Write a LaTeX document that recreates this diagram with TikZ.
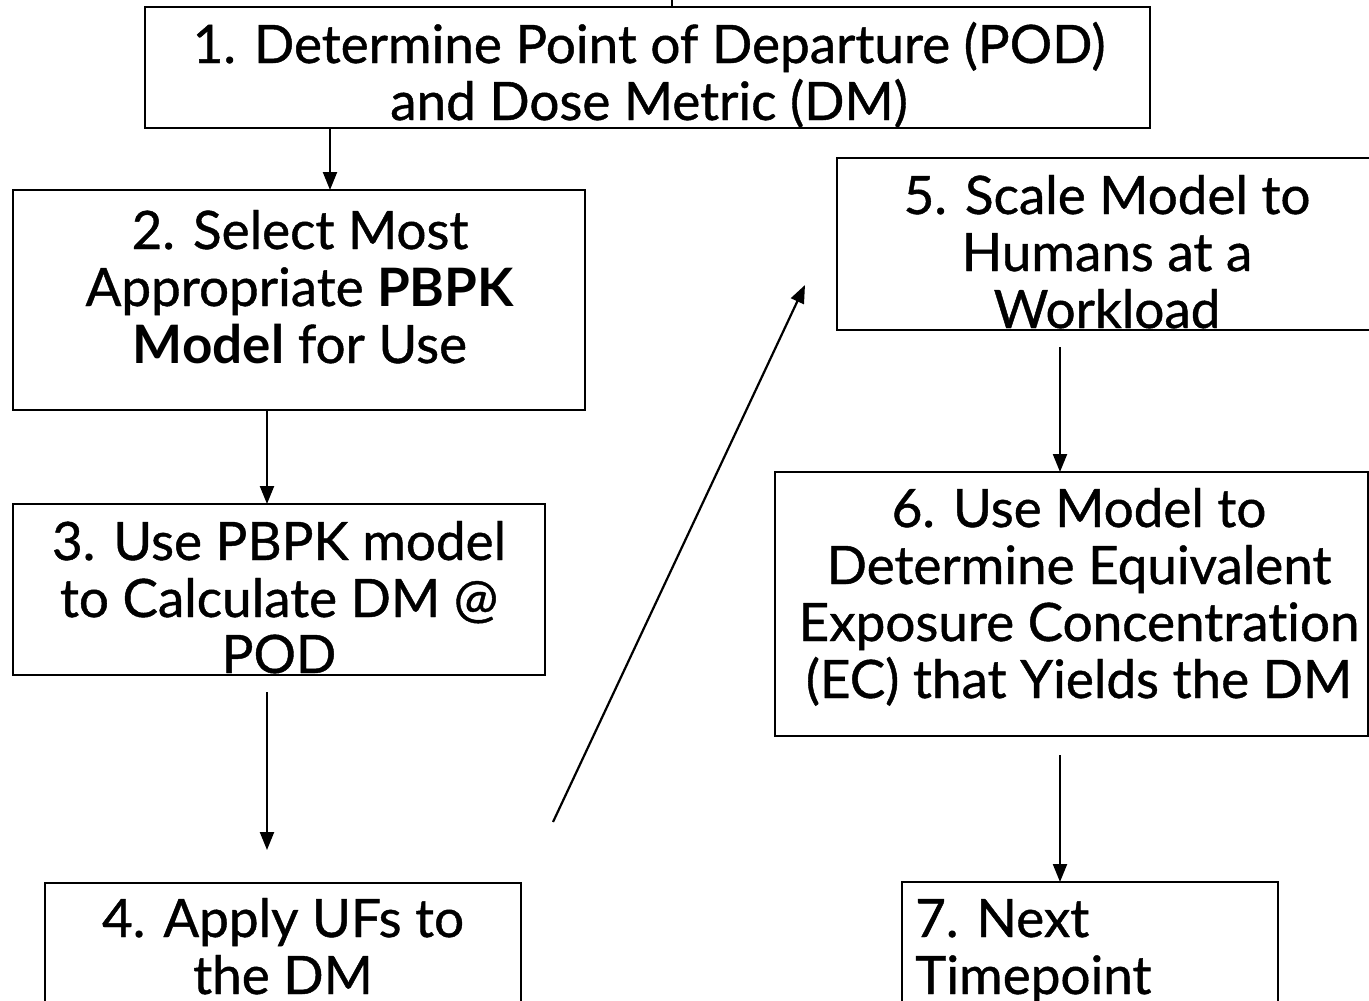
\documentclass[tikz,border=0pt]{standalone}
\usepackage{fontspec}
\setmainfont{Lato}[Ligatures=NoCommon,UprightFeatures={FakeBold=0.8}]
\usetikzlibrary{arrows.meta}
\begin{document}
\begin{tikzpicture}[x=1pt,y=-1pt,
  box/.style={draw=black,line width=1.4pt,rectangle,inner sep=0pt,outer sep=0pt},
  txt/.style={anchor=base,inner sep=0pt,font=\fontsize{53}{57}\selectfont},
  arr/.style={line width=2.2pt,-{Triangle[length=18pt,width=14pt]}}]
\useasboundingbox (0,0) rectangle (1369,1001);
\clip (0,0) rectangle (1369,1001);
\fill[white] (0,0) rectangle (1369,1001);

% step boxes (centre, width, height)
\node[box,minimum width=1005pt,minimum height=121pt] (b1) at (647.5,67.5) {};
\node[box,minimum width=572pt,minimum height=220pt] (b2) at (299,300) {};
\node[box,minimum width=532pt,minimum height=171pt] (b3) at (279,589.5) {};
\node[box,minimum width=476pt,minimum height=160pt] (b4) at (283,963) {};
\node[box,minimum width=545pt,minimum height=172pt] (b5) at (1109.5,244) {};
\node[box,minimum width=593pt,minimum height=264pt] (b6) at (1071.5,604) {};
\node[box,minimum width=376pt,minimum height=160pt] (b7) at (1090,962) {};

% step texts, one node per line on its baseline
\node[txt] (t1a) at (649,63) {1. Determine Point of Departure (POD)};
\node[txt] (t1b) at (649,120) {and Dose Metric (DM)};
\node[txt] (t2a) at (300,249) {2. Select Most};
\node[txt] (t2b) at (300,306) {Appropriate \textbf{PBPK}};
\node[txt] (t2c) at (300,363) {\textbf{Model} for Use};
\node[txt] (t3a) at (279,560) {3. Use PBPK model};
\node[txt] (t3b) at (279,617) {to Calculate DM @};
\node[txt] (t3c) at (279,673) {POD};
\node[txt] (t4a) at (283,937) {4. Apply UFs to};
\node[txt] (t4b) at (283,994) {the DM};
\node[txt] (t5a) at (1107,214) {5. Scale Model to};
\node[txt] (t5b) at (1107,271) {Humans at a};
\node[txt] (t5c) at (1107,328) {Workload};
\node[txt] (t6a) at (1079,527) {6. Use Model to};
\node[txt] (t6b) at (1079,584) {Determine Equivalent};
\node[txt] (t6c) at (1079,641) {Exposure Concentration};
\node[txt] (t6d) at (1079,698) {(EC) that Yields the DM};
\node[txt,anchor=base west] (t7a) at (915,937) {7. Next};
\node[txt,anchor=base west] (t7b) at (915,994) {Timepoint};

% connector anchors
\coordinate (top) at (672,0);
\coordinate (c12) at (330,0);
\coordinate (c23) at (267,0);
\coordinate (s34) at (267,692);
\coordinate (e34) at (267,850);
\coordinate (s45) at (553,822);
\coordinate (e45) at (805,285);
\coordinate (s56) at (1060,347);
\coordinate (s67) at (1060,755);

% connectors
\draw[line width=2.2pt] (top) -- (top |- b1.north);
\draw[arr] (b1.south -| c12) -- (b2.north -| c12);
\draw[arr] (b2.south -| c23) -- (b3.north -| c23);
\draw[arr] (s34) -- (e34);
\draw[arr] (s45) -- (e45);
\draw[arr] (s56) -- (s56 |- b6.north);
\draw[arr] (s67) -- (s67 |- b7.north);
\end{tikzpicture}
\end{document}
